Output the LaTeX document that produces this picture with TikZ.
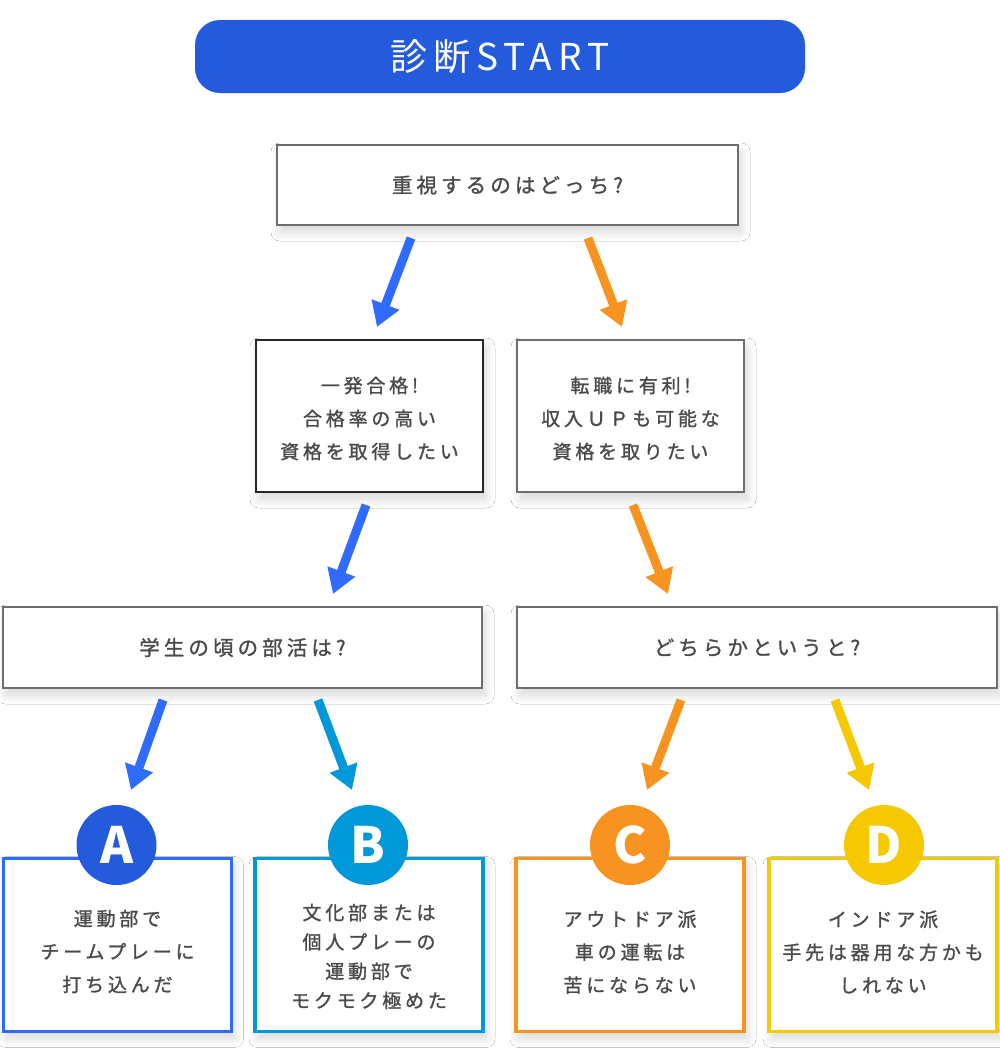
\documentclass[tikz,border=0pt]{standalone}
\usepackage{fontspec}
\setmainfont{Noto Sans CJK JP}
\newfontfamily\jp[LetterSpace=20, FakeBold=1.2]{Noto Sans CJK JP}
\newfontfamily\jpstart[LetterSpace=16]{Noto Sans CJK JP}
\usetikzlibrary{arrows.meta,shadows.blur}
\definecolor{startblue}{HTML}{235BDC}
\definecolor{arrblue}{HTML}{2F6BFF}
\definecolor{bblue}{HTML}{0098D8}
\definecolor{orng}{HTML}{F79421}
\definecolor{yllw}{HTML}{F5C800}
\definecolor{txt}{HTML}{4A4A4A}
\definecolor{bordergray}{HTML}{6E6E6E}
\tikzset{
  qbox/.style={draw=bordergray, line width=1.3pt, fill=white, inner sep=0pt,
    blur shadow={shadow xshift=3pt, shadow yshift=-7pt, shadow blur steps=14, shadow opacity=16, shadow blur radius=9pt}},
  abox/.style={line width=3.5pt, fill=white, inner sep=0pt,
    blur shadow={shadow xshift=3pt, shadow yshift=-7pt, shadow blur steps=14, shadow opacity=16, shadow blur radius=9pt}},
  btxt/.style={text=txt, align=center, inner sep=0pt, font=\jp\fontsize{19}{33}\selectfont},
  qtxt/.style={text=txt, align=center, inner sep=0pt, font=\jp\fontsize{20.5}{24}\selectfont},
  badge/.style={circle, minimum size=80pt, inner sep=0pt, text=white, font=\bfseries\fontsize{50}{50}\selectfont},
  arr/.style={line width=9pt, -{Triangle[width=28pt,length=24pt]}}
}
\begin{document}
\begin{tikzpicture}[x=1pt,y=-1pt]
\useasboundingbox[fill=white] (0,0) rectangle (1000,1055);

% start pill
\node[fill=startblue, rounded corners=25pt, minimum width=610pt, minimum height=73pt, inner sep=0pt,
  text=white, font=\jpstart\fontsize{37}{37}\selectfont] (start) at (500,56.5) {診断START};

% question 1
\node[qbox, minimum width=461pt, minimum height=80pt] (q1) at (507.5,185) {};
\node[qtxt] (q1t) at (q1.center) {重視するのはどっち?};

% level 2
\node[qbox, draw=black!85, minimum width=227pt, minimum height=152pt] (l2) at (369.5,416) {};
\node[btxt] (l2t) at (369.5,418.5) {一発合格!\\合格率の高い\\資格を取得したい};
\node[qbox, minimum width=227pt, minimum height=152pt] (r2) at (630.5,416) {};
\node[btxt] (r2t) at (630.5,418.5) {転職に有利!\\収入ＵＰも可能な\\資格を取りたい};

% level 3
\node[qbox, minimum width=479pt, minimum height=81pt] (l3) at (242.5,647.5) {};
\node[qtxt] (l3t) at (l3.center) {学生の頃の部活は?};
\node[qbox, minimum width=480pt, minimum height=81pt] (r3) at (757,647.5) {};
\node[qtxt] (r3t) at (r3.center) {どちらかというと?};

% result boxes
\node[abox, draw=arrblue, minimum width=228pt, minimum height=173pt] (ra) at (117.5,945) {};
\node[abox, draw=bblue, minimum width=228pt, minimum height=173pt] (rb) at (369,945) {};
\node[abox, draw=orng, minimum width=228pt, minimum height=173pt] (rc) at (630,945) {};
\node[abox, draw=yllw, minimum width=228pt, minimum height=173pt] (rd) at (883,945) {};

\node[badge, fill=startblue] (ca) at (116.5,845) {A};
\node[badge, fill=bblue] (cb) at (368,845) {B};
\node[badge, fill=orng] (cc) at (630,845) {C};
\node[badge, fill=yllw] (cd) at (884,845) {D};

\node[btxt] (ta) at (117.5,951.5) {運動部で\\チームプレーに\\打ち込んだ};
\node[btxt, font=\jp\fontsize{19}{29.3}\selectfont] (tb) at (369,956.5) {文化部または\\個人プレーの\\運動部で\\モクモク極めた};
\node[btxt] (tc) at (630,952) {アウトドア派\\車の運転は\\苦にならない};
\node[btxt] (td) at (883,952) {インドア派\\手先は器用な方かも\\しれない};

% arrow coordinates
\coordinate (s1) at (411,238); \coordinate (e1) at (377,327);
\coordinate (s2) at (588,238); \coordinate (e2) at (622,327);
\coordinate (s3) at (366,505); \coordinate (e3) at (333,594);
\coordinate (s4) at (633,505); \coordinate (e4) at (668,594);
\coordinate (s5) at (163,700); \coordinate (e5) at (131,790);
\coordinate (s6) at (318,700); \coordinate (e6) at (352,790);
\coordinate (s7) at (681,700); \coordinate (e7) at (647,790);
\coordinate (s8) at (835,700); \coordinate (e8) at (869,790);

\draw[arr, arrblue] (s1) -- (e1);
\draw[arr, orng] (s2) -- (e2);
\draw[arr, arrblue] (s3) -- (e3);
\draw[arr, orng] (s4) -- (e4);
\draw[arr, arrblue] (s5) -- (e5);
\draw[arr, bblue] (s6) -- (e6);
\draw[arr, orng] (s7) -- (e7);
\draw[arr, yllw] (s8) -- (e8);
\end{tikzpicture}
\end{document}
